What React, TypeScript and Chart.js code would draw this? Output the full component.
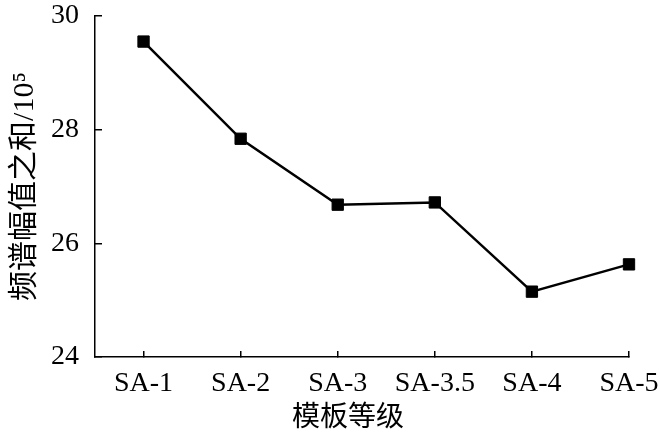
import React, { useEffect, useRef } from "react";
import { Chart, registerables } from "chart.js";

Chart.register(...registerables);

const categories = ["SA-1", "SA-2", "SA-3", "SA-3.5", "SA-4", "SA-5"];
const values = [29.55, 27.84, 26.68, 26.72, 25.15, 25.63];
const yTicks = [24, 26, 28, 30];
const yTitle = "频谱幅值之和/10⁵";
const xTitle = "模板等级";

const serif = "'Liberation Serif', 'Times New Roman', serif";
const mixed = "'Liberation Serif', 'Noto Sans CJK SC', serif";

const zeroPad = (s: any) => {
  s.paddingTop = 0;
  s.paddingBottom = 0;
  s.paddingLeft = 0;
  s.paddingRight = 0;
};

export default function App() {
  const ref = useRef<HTMLCanvasElement | null>(null);

  useEffect(() => {
    if (!ref.current) return;
    const chart = new Chart(ref.current, {
      type: "line",
      data: {
        datasets: [
          {
            data: values.map((v, i) => ({ x: i, y: v })),
            borderColor: "#000",
            borderWidth: 2.5,
            backgroundColor: "#000",
            pointStyle: "rect",
            pointRadius: 8,
            pointBackgroundColor: "#000",
            pointBorderColor: "#000",
            pointBorderWidth: 1,
            tension: 0,
            clip: false as any,
          },
        ],
      },
      options: {
        responsive: false,
        animation: false,
        layout: { padding: { top: 16, right: 31, left: 0, bottom: 0 } },
        plugins: { legend: { display: false }, tooltip: { enabled: false } },
        scales: {
          x: {
            type: "linear",
            min: -0.5,
            max: categories.length - 1,
            afterBuildTicks: (s: any) => {
              s.ticks = categories.map((_, i) => ({ value: i }));
            },
            afterFit: (s: any) => {
              s.height = 78;
              zeroPad(s);
            },
            border: { color: "#000", width: 1.5 },
            grid: {
              drawOnChartArea: false,
              tickLength: -6,
              color: "#000",
              lineWidth: 1.5,
            },
            ticks: {
              color: "#000",
              font: { family: serif, size: 28 },
              padding: 16,
              maxRotation: 0,
              autoSkip: false,
              callback: (v: any) => categories[Math.round(Number(v))] ?? "",
            },
            title: {
              display: true,
              text: xTitle + "    ",
              color: "#000",
              font: { family: mixed, size: 28 },
              padding: { top: 3, bottom: 0 },
            },
          },
          y: {
            type: "linear",
            min: 24,
            max: 30,
            afterBuildTicks: (s: any) => {
              s.ticks = yTicks.map((v) => ({ value: v }));
            },
            afterFit: (s: any) => {
              s.width = 95;
              zeroPad(s);
            },
            border: { color: "#000", width: 1.5 },
            grid: {
              drawOnChartArea: false,
              tickLength: -7,
              color: "#000",
              lineWidth: 1.5,
            },
            ticks: {
              color: "#000",
              font: { family: serif, size: 28 },
              padding: 23,
            },
            title: {
              display: true,
              text: yTitle,
              color: "#000",
              font: { family: mixed, size: 30 },
              padding: { top: 7, bottom: 0 },
            },
          },
        },
      },
    });
    return () => chart.destroy();
  }, []);

  return (
    <div style={{ position: "absolute", left: 0, top: 0, width: 660, height: 435, background: "#fff" }}>
      <canvas ref={ref} width={660} height={435} />
    </div>
  );
}
